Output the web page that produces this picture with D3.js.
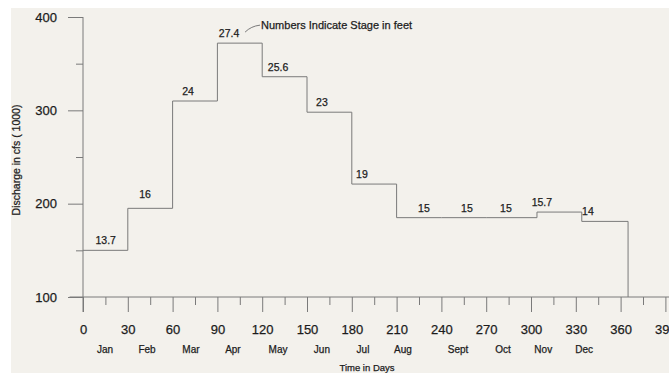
<!DOCTYPE html>
<html>
<head>
<meta charset="utf-8">
<script src="https://cdn.jsdelivr.net/npm/d3@7"></script>
<style>
  html, body { margin: 0; padding: 0; background: #fff; }
  svg { display: block; font-family: "Liberation Sans", Arial, sans-serif; }
  svg text { stroke: #1c1c1c; stroke-width: 0.25px; }
</style>
</head>
<body>
<div id="chart"></div>
<script>
// step boundaries in days, discharge (1000 cfs) and stage (ft) per step
const stepStart = [0, 30, 60, 90, 120, 150, 180, 210, 240, 270, 304, 334];
const stepEnd = 365;
const discharge = [150, 195, 310, 372, 336, 298, 221, 185, 185, 185, 191, 181];
const stage = ["13.7", "16", "24", "27.4", "25.6", "23", "19", "15", "15", "15", "15.7", "14"];
const stageDay = [15.2, 41.5, 70.3, 97.8, 130.6, 160, 186.8, 228.3, 257.1, 283.2, 307.3, 338.1];

const dayTicks = d3.range(0, 391, 30);
const dayMinor = d3.range(15, 391, 30);
const qTicks = [100, 200, 300, 400];
const qMinor = [150, 250, 350];
const months = ["Jan", "Feb", "Mar", "Apr", "May", "Jun", "Jul", "Aug", "Sept", "Oct", "Nov", "Dec"];
const monthDay = [14.7, 42.9, 72.3, 100.4, 130.6, 160, 187.5, 214.3, 251.2, 281.3, 308.2, 335.6];

const W = 669, H = 373;
const ink = "#1c1c1c", lineCol = "#7a7a7a";

const svg = d3.select("#chart").append("svg")
    .attr("width", W)
    .attr("height", H);

// scanned paper
svg.append("rect")
    .attr("x", 10).attr("y", 8)
    .attr("width", W - 10).attr("height", H - 8)
    .attr("fill", "#f3f1ec");

const x = d3.scaleLinear().domain([0, 390]).range([83, 665.4]);
const y = d3.scaleLinear().domain([100, 400]).range([297, 17]);

// axis lines
svg.append("line")
    .attr("x1", x(-9)).attr("x2", W)
    .attr("y1", y(100)).attr("y2", y(100))
    .attr("stroke", lineCol);
svg.append("line")
    .attr("x1", x(0)).attr("x2", x(0))
    .attr("y1", y(400)).attr("y2", y(100) + 15)
    .attr("stroke", lineCol);

const xAxis = svg.append("g")
    .attr("transform", `translate(0,${y(100)})`)
    .call(d3.axisBottom(x).tickValues(dayTicks).tickSize(15).tickSizeOuter(0).tickPadding(13));
const xMinor = svg.append("g")
    .attr("transform", `translate(0,${y(100)})`)
    .call(d3.axisBottom(x).tickValues(dayMinor).tickSize(8).tickFormat(""));

const yAxis = svg.append("g")
    .attr("transform", `translate(${x(0)},0)`)
    .call(d3.axisLeft(y).tickValues(qTicks).tickSize(15).tickSizeOuter(0).tickPadding(11));
const yMinor = svg.append("g")
    .attr("transform", `translate(${x(0)},0)`)
    .call(d3.axisLeft(y).tickValues(qMinor).tickSize(7).tickFormat(""));

[xAxis, xMinor, yAxis, yMinor].forEach(g => {
    g.select(".domain").remove();
    g.selectAll(".tick line").attr("stroke", lineCol);
    g.selectAll("text")
        .attr("fill", ink)
        .style("font-size", "13px")
        .style("font-family", "\"Liberation Sans\", Arial, sans-serif");
});

// month names under day ticks
svg.append("g")
    .selectAll("text")
    .data(months)
    .enter().append("text")
    .attr("x", (d, i) => x(monthDay[i]))
    .attr("y", 353)
    .attr("text-anchor", "middle")
    .attr("fill", ink)
    .style("font-size", "10px")
    .text(d => d);

svg.append("text")
    .attr("x", 367)
    .attr("y", 371)
    .attr("text-anchor", "middle")
    .attr("fill", ink)
    .style("font-size", "9.5px")
    .text("Time in Days");

// y title (cut off at the scan edge)
svg.append("text")
    .attr("transform", `translate(20,160) rotate(-90)`)
    .attr("text-anchor", "middle")
    .attr("fill", ink)
    .style("font-size", "10.5px")
    .text("Discharge in cfs ( 1000)");
svg.append("rect")
    .attr("x", 0).attr("y", 0)
    .attr("width", 11).attr("height", H)
    .attr("fill", "#fff");

// step hydrograph
const steps = [];
stepStart.forEach((s, i) => {
    const e = i < stepStart.length - 1 ? stepStart[i + 1] : stepEnd;
    steps.push([s, discharge[i]], [e, discharge[i]]);
});
steps.push([stepEnd, 100]);

svg.append("path")
    .datum(steps)
    .attr("fill", "none")
    .attr("stroke", lineCol)
    .attr("stroke-width", 1)
    .attr("d", d3.line().x(d => x(d[0])).y(d => y(d[1])));

// stage labels
svg.append("g")
    .selectAll("text")
    .data(stage)
    .enter().append("text")
    .attr("x", (d, i) => x(stageDay[i]))
    .attr("y", (d, i) => y(discharge[i]) - (d === "16" ? 10 : 6))
    .attr("text-anchor", "middle")
    .attr("fill", ink)
    .style("font-size", "10.5px")
    .text(d => d);

// annotation
const peak = stage.indexOf("27.4");
const ax = x(stageDay[peak]), ay = y(discharge[peak]);
svg.append("path")
    .attr("d", `M${ax + 16},${ay - 11} Q${ax + 22},${ay - 17} ${ax + 31},${ay - 18}`)
    .attr("fill", "none")
    .attr("stroke", lineCol);
svg.append("text")
    .attr("x", ax + 32)
    .attr("y", ay - 14)
    .attr("fill", ink)
    .style("font-size", "11px")
    .text("Numbers Indicate Stage in feet");
</script>
</body>
</html>
